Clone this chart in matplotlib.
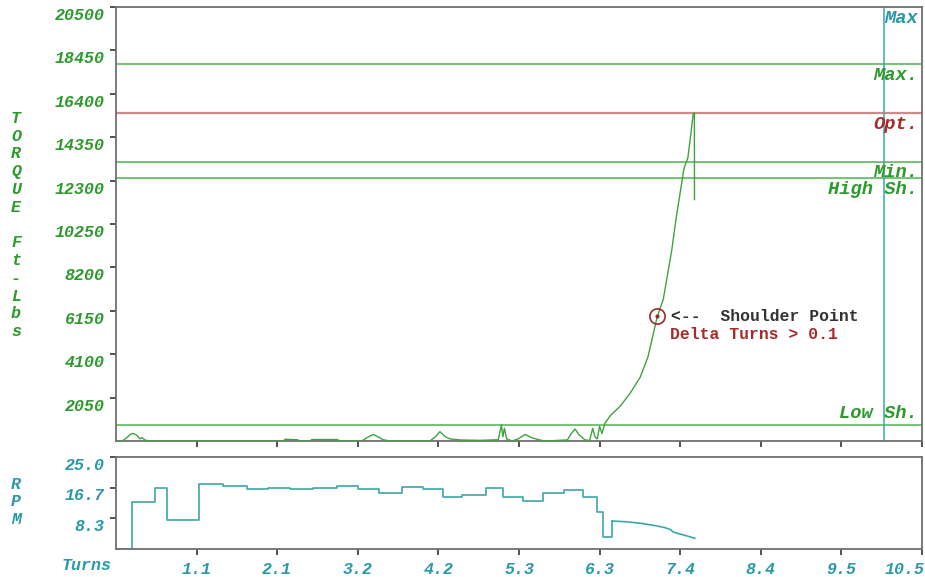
import matplotlib
matplotlib.use('Agg')
from matplotlib import pyplot as plt
import matplotlib.transforms as mtransforms

# torque vs turns
torque_turns = [0.00, 0.08, 0.14, 0.18, 0.22, 0.27, 0.31, 0.34, 0.38, 0.44,
                2.18, 2.20, 2.36, 2.40, 2.53, 2.55, 2.88, 2.92,
                3.20, 3.28, 3.35, 3.41, 3.48, 3.57,
                4.09, 4.16, 4.22, 4.29, 4.35, 4.48, 4.74,
                4.98, 5.02, 5.04, 5.06, 5.09, 5.16, 5.24, 5.33, 5.42, 5.52, 5.59,
                5.88, 5.93, 5.98, 6.03, 6.11, 6.17, 6.21, 6.24, 6.27, 6.30, 6.33,
                6.37, 6.44, 6.57, 6.70, 6.83, 6.93, 7.05, 7.13, 7.24, 7.30, 7.37,
                7.40, 7.45, 7.49, 7.52, 7.535, 7.536]
torque_vals = [0, 0, 150, 300, 360, 280, 100, 160, 40, 0,
               0, 80, 60, 0, 0, 70, 70, 0,
               0, 180, 310, 200, 60, 0,
               0, 200, 440, 200, 100, 50, 30,
               60, 760, 200, 600, 100, 0, 100, 310, 150, 50, 0,
               50, 350, 565, 300, 50, 30, 600, 200, 100, 700, 350,
               840, 1200, 1650, 2270, 3020, 3970, 5860, 6700, 9020, 10600, 12190,
               12900, 13370, 14550, 15450, 15500, 11400]

# rpm vs turns (stepped part, then the sloping tail)
rpm_turns = [0.00, 0.21, 0.51, 0.66, 1.08, 1.39, 1.71, 1.98, 2.27, 2.57, 2.88,
             3.15, 3.43, 3.73, 4.00, 4.26, 4.51, 4.82, 5.04, 5.30, 5.56, 5.84,
             6.08, 6.27, 6.34, 6.46]
rpm_vals = [0, 12.7, 16.7, 7.9, 17.6, 17.1, 16.2, 16.7, 16.4, 16.7, 17.1,
            16.3, 15.1, 16.8, 16.3, 14.0, 14.7, 16.7, 14.2, 13.0, 15.1, 16.0,
            14.2, 10.1, 3.2, 7.6]
tail_turns = [6.46, 6.65, 6.83, 6.95, 7.04, 7.15, 7.22, 7.26, 7.43, 7.54]
tail_vals = [7.6, 7.4, 7.0, 6.6, 6.3, 5.8, 5.3, 4.6, 3.6, 2.9]

# limit lines
limit_names = ['Max.', 'Opt.', 'Min.', 'High Sh.', 'Low Sh.']
limit_vals = [17800, 15500, 13200, 12400, 750]
max_turns = 10.0
shoulder = (7.05, 5900)

torque_ticks = [2050 * i for i in range(1, 11)]
rpm_ticks = [8.3, 16.7, 25.0]
turn_ticks = [1.05 * i for i in range(1, 11)]
turn_labels = ['1.1', '2.1', '3.2', '4.2', '5.3', '6.3', '7.4', '8.4', '9.5', '10.5']

green = '#2e9a2e'
line_green = '#5cb85c'
red = '#a82a2a'
cyan = '#2a9aa6'
mono = ['Liberation Mono', 'DejaVu Sans Mono']
lab = dict(family=mono, weight='bold', style='italic', fontsize=12)
big = dict(family=mono, weight='bold', style='italic', fontsize=13.5)

fig = plt.figure(figsize=(9.25, 5.77), dpi=100)
ax = fig.add_axes([116/925, 1-441/577, 806/925, 434/577])
ax2 = fig.add_axes([116/925, 1-549/577, 806/925, 92/577])

for a in (ax, ax2):
	for s in a.spines.values():
		s.set_color('#707070')
		s.set_linewidth(1.3)
	a.set_xlim(0, 10.5)
	a.set_xticks(turn_ticks)
	a.tick_params(axis='both', direction='out', length=4, width=1.3, color='#444444')

# torque panel
for name, v in zip(limit_names, limit_vals):
	c = '#d08888' if name == 'Opt.' else line_green
	ax.axhline(v, color=c, lw=1.6 if name == 'Opt.' else 1.2, zorder=1)
	tc = red if name == 'Opt.' else green
	if name == 'Low Sh.':
		ax.annotate(name, xy=(0.995, v), xycoords=('axes fraction', 'data'),
			xytext=(0, 2), textcoords='offset points', ha='right', va='bottom', color=tc, **big)
	else:
		ax.annotate(name, xy=(0.995, v), xycoords=('axes fraction', 'data'),
			xytext=(0, -2), textcoords='offset points', ha='right', va='top', color=tc, **big)
ax.axvline(max_turns, color='#3aa6b0', lw=1.1)
ax.annotate('Max', xy=(max_turns, 20500), xycoords='data', xytext=(0.5, -2),
	textcoords='offset points', ha='left', va='top', color=cyan, **big)

ax.plot(torque_turns, torque_vals, color='#3fa23f', lw=1.0, zorder=3)
ax.plot(shoulder[0], shoulder[1], 'o', ms=11, mfc='none', mec='#9a2a2a', mew=1.2, zorder=4)
ax.plot(shoulder[0], shoulder[1], 'o', ms=2, color='#9a2a2a', zorder=4)
ax.annotate('<--  Shoulder Point', xy=shoulder, xytext=(10, 0), textcoords='offset points',
	ha='left', va='center', color='#333333', family=mono, weight='bold', fontsize=11.8)
ax.annotate('Delta Turns > 0.1', xy=shoulder, xytext=(9, -13), textcoords='offset points',
	ha='left', va='center', color=red, family=mono, weight='bold', fontsize=11.8)

ax.set_ylim(0, 20500)
ax.set_yticks(torque_ticks)
ax.set_yticklabels([str(t) for t in torque_ticks], color=green, **lab)
ax.tick_params(axis='y', pad=4)
ax.set_xticklabels([])

# rpm panel
ax2.step(rpm_turns, rpm_vals, where='post', color='#3ea6a6', lw=1.2)
ax2.plot(tail_turns, tail_vals, color='#3ea6a6', lw=1.2)
ax2.set_ylim(0, 25)
ax2.set_yticks(rpm_ticks)
ax2.set_yticklabels(['%.1f' % t for t in rpm_ticks], color=cyan, **lab)
ax2.set_xticklabels(turn_labels, color=cyan, **lab)
ax2.tick_params(axis='x', pad=5)
ax2.tick_params(axis='y', pad=4)
last = ax2.get_xticklabels()[-1]
last.set_horizontalalignment('right')
last.set_transform(last.get_transform() + mtransforms.ScaledTranslation(2/72, 0, fig.dpi_scale_trans))

# y labels sit a bit below their ticks
shift = mtransforms.ScaledTranslation(0, -5/72, fig.dpi_scale_trans)
for a in (ax, ax2):
	for t in a.get_yticklabels():
		t.set_transform(t.get_transform() + shift)

fig.text(16/925, 1-225/577, 'T\nO\nR\nQ\nU\nE\n \nF\nt\n-\nL\nb\ns', ha='center', va='center',
	color=green, linespacing=1.23, **lab)
fig.text(16/925, 1-502/577, 'R\nP\nM', ha='center', va='center', color=cyan, linespacing=1.22, **lab)
fig.text(87/925, 1-565/577, 'Turns', ha='center', va='center', color=cyan, **lab)

fig.savefig('out.png', dpi=100)
